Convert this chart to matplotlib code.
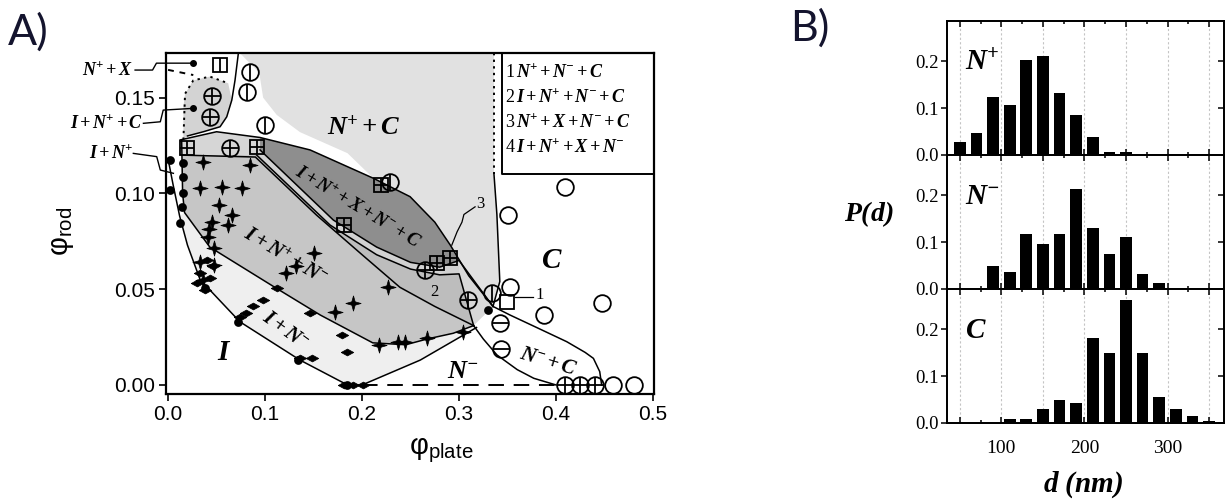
import numpy as np
import matplotlib
matplotlib.use("Agg")
import matplotlib.pyplot as plt
from matplotlib.patches import Polygon
from matplotlib.ticker import MultipleLocator

plt.rcParams['font.family'] = ['Liberation Sans', 'DejaVu Sans']
plt.rcParams['mathtext.fontset'] = 'custom'
plt.rcParams['mathtext.rm'] = 'Liberation Serif'
plt.rcParams['mathtext.it'] = 'Liberation Serif:italic'
plt.rcParams['mathtext.bf'] = 'Liberation Serif:italic:bold'
plt.rcParams['mathtext.sf'] = 'Liberation Sans'

# ---------------- panel B: size distributions P(d)
d_nm = [50, 70, 90, 110, 130, 150, 170, 190, 210, 230, 250, 270, 290, 310, 330, 350]
p_nplus = [0.028, 0.046, 0.124, 0.106, 0.202, 0.211, 0.133, 0.086, 0.039, 0.007, 0.007,
           0, 0, 0, 0, 0]
p_nminus = [0, 0, 0.049, 0.037, 0.118, 0.095, 0.118, 0.213, 0.130, 0.074, 0.111,
            0.032, 0.012, 0, 0, 0]
p_col = [0, 0, 0, 0.009, 0.009, 0.030, 0.049, 0.043, 0.182, 0.149, 0.263, 0.149,
         0.055, 0.029, 0.014, 0.004]
hist_labels = [r'$\mathbf{N^{+}}$', r'$\mathbf{N^{-}}$', r'$\mathbf{C}$']

# ---------------- panel A: phase diagram, (phi_plate, phi_rod)
# measured state points, grouped by symbol
pts_C = [(0.409, 0.1035), (0.350, 0.0885), (0.447, 0.0426), (0.388, 0.0365),
         (0.353, 0.0513), (0.459, 0.0), (0.480, 0.0)]
pts_NpC = [(0.0845, 0.1635), (0.0818, 0.1528), (0.100, 0.1357), (0.229, 0.106),
           (0.334, 0.0478)]
pts_INpC = [(0.045, 0.151), (0.0433, 0.140), (0.0639, 0.1235), (0.265, 0.060),
            (0.3096, 0.0444), (0.409, 0.0), (0.425, 0.0), (0.440, 0.0)]
pts_NmC = [(0.342, 0.0322), (0.343, 0.019)]
pts_sqplus = [(0.0193, 0.1235), (0.0914, 0.124), (0.220, 0.1044), (0.181, 0.0835),
              (0.277, 0.0635), (0.2907, 0.0661)]
pts_sqbar = [(0.0536, 0.167)]
pts_sq = [(0.349, 0.0435)]
pts_star = [(0.0364, 0.1166), (0.033, 0.1027), (0.0553, 0.1035), (0.076, 0.1027),
            (0.052, 0.094), (0.0656, 0.0887), (0.0845, 0.1148), (0.045, 0.0853),
            (0.041, 0.077), (0.062, 0.0835), (0.047, 0.0713), (0.033, 0.0644),
            (0.047, 0.0626), (0.036, 0.0548), (0.150, 0.0687), (0.122, 0.0583),
            (0.132, 0.062), (0.227, 0.0513), (0.191, 0.0426), (0.172, 0.0383),
            (0.237, 0.0226), (0.217, 0.021), (0.3045, 0.0278), (0.2667, 0.0244),
            (0.244, 0.0226), (0.042, 0.0815)]
pts_diam = [(0.040, 0.065), (0.046, 0.062), (0.033, 0.0585), (0.043, 0.056),
            (0.030, 0.053), (0.038, 0.0496), (0.074, 0.0355), (0.080, 0.0375),
            (0.088, 0.041), (0.098, 0.0444), (0.112, 0.0506), (0.146, 0.0374),
            (0.179, 0.026), (0.184, 0.0174), (0.136, 0.014), (0.148, 0.014),
            (0.181, 0.0), (0.191, 0.0), (0.201, 0.0)]
pts_dot = [(0.002, 0.1174), (0.002, 0.102), (0.0158, 0.1157), (0.0158, 0.1087),
           (0.0158, 0.100), (0.014, 0.093), (0.0124, 0.0844), (0.038, 0.0505),
           (0.072, 0.033), (0.134, 0.013), (0.184, 0.0), (0.33, 0.039)]

# phase boundaries
b_outer = [(0.0, 0.118), (0.005, 0.105), (0.012, 0.088), (0.02, 0.073), (0.033, 0.055),
           (0.074, 0.033), (0.136, 0.013), (0.185, 0.0), (0.20, 0.0), (0.26, 0.013),
           (0.318, 0.030)]
b_low = [(0.014, 0.128), (0.015, 0.10), (0.017, 0.09), (0.043, 0.072), (0.110, 0.051),
         (0.157, 0.0365), (0.211, 0.022), (0.245, 0.021), (0.267, 0.024), (0.294, 0.027),
         (0.315, 0.031)]
b_mid = [(0.014, 0.120), (0.09, 0.119), (0.153, 0.0887), (0.20, 0.068), (0.239, 0.051),
         (0.275, 0.041), (0.315, 0.031)]
b_band_lo = [(0.0914, 0.120), (0.167, 0.0835), (0.215, 0.068), (0.25, 0.0605),
             (0.28, 0.0575), (0.30, 0.058), (0.315, 0.031)]
b_band_up = [(0.0948, 0.1227), (0.1704, 0.0861), (0.215, 0.072), (0.25, 0.064),
             (0.28, 0.0615), (0.30, 0.065), (0.335, 0.041)]
b_lens_top = [(0.0124, 0.1279), (0.05, 0.1322), (0.0948, 0.1292), (0.1464, 0.1227),
              (0.2117, 0.1079), (0.2495, 0.0983), (0.275, 0.085), (0.291, 0.073),
              (0.31, 0.057), (0.335, 0.041)]
b_nmc_left = [(0.315, 0.031), (0.325, 0.024), (0.339, 0.0157), (0.36, 0.008),
              (0.377, 0.0035), (0.40, 0.0)]
b_nmc_top = [(0.335, 0.041), (0.3526, 0.0365), (0.38, 0.030), (0.411, 0.0226),
             (0.43, 0.017), (0.4385, 0.0139), (0.445, 0.007), (0.447, 0.0)]
b_vert = [(0.336, 0.110), (0.339, 0.089), (0.342, 0.054), (0.335, 0.041)]
b_vert_dot = [(0.336, 0.1733), (0.336, 0.110)]
b_blob = [(0.0725, 0.1733), (0.069, 0.159), (0.0657, 0.1487), (0.0605, 0.140),
          (0.0536, 0.1348), (0.0364, 0.1322), (0.02, 0.130)]
b_blob_dot = [(0.0158, 0.128), (0.0175, 0.152), (0.026, 0.159), (0.043, 0.161),
              (0.062, 0.1575)]
b_top_dash = [(0.0, 0.1645), (0.026, 0.1618)]
b_n_dash = [(0.20, 0.0), (0.405, 0.0)]

reg_npc = [(0.074, 0.1733), (0.336, 0.1733), (0.336, 0.110), (0.339, 0.089),
           (0.342, 0.054), (0.335, 0.041), (0.31, 0.057), (0.291, 0.073), (0.275, 0.085),
           (0.2495, 0.0983), (0.2117, 0.1079), (0.185, 0.121), (0.136, 0.132),
           (0.112, 0.141), (0.098, 0.150), (0.094, 0.163)]
reg_blob = [(0.0158, 0.128), (0.0158, 0.145), (0.0175, 0.152), (0.026, 0.159),
            (0.043, 0.161), (0.062, 0.1575), (0.0657, 0.1487), (0.0605, 0.140),
            (0.0536, 0.1348), (0.0364, 0.1322), (0.02, 0.130)]
reg_topband = [(0.0124, 0.1279), (0.05, 0.1322), (0.0948, 0.1292), (0.0948, 0.1227),
               (0.0914, 0.120), (0.014, 0.120)]
reg_lens = b_lens_top[2:8] + [(0.30, 0.065)] + b_band_up[::-1][2:]
reg_band = b_band_up[:-1] + b_band_lo[:-1][::-1]
reg_two = b_band_lo + b_mid[::-1][1:]
reg_tip = [(0.291, 0.073), (0.31, 0.057), (0.335, 0.041), (0.315, 0.031), (0.30, 0.058),
           (0.30, 0.065)]
reg_mid = b_mid + b_low[::-1][1:]
reg_inm = b_low[2:] + b_outer[::-1][:-2]

fig = plt.figure(figsize=(12.25, 5.01), dpi=100)

# ======================= A =======================
ax = fig.add_axes([0.1353, 0.2136, 0.3986, 0.6806])
ax.set_xlim(-0.0024, 0.501)
ax.set_ylim(-0.0047, 0.1733)

for poly, col in [(reg_npc, '#e1e1e1'), (reg_inm, '#efefef'), (reg_mid, '#c6c6c6'),
                  (reg_two, '#bdbdbd'), (reg_band, '#d2d2d2'), (reg_lens, '#8e8e8e'),
                  (reg_tip, '#d8d8d8'), (reg_topband, '#d6d6d6'), (reg_blob, '#d3d3d3')]:
    ax.add_patch(Polygon(poly, closed=True, fc=col, ec='none', zorder=1))

for line in [b_outer, b_low, b_mid, b_band_lo, b_band_up, b_lens_top, b_nmc_left,
             b_nmc_top, b_vert, b_blob]:
    xs, ys = np.array(line).T
    ax.plot(xs, ys, color='k', lw=1.1, zorder=2)
for line, ls in [(b_vert_dot, (0, (1.2, 2.2))), (b_blob_dot, (0, (1.2, 2.2))),
                 (b_top_dash, (0, (3, 3))), (b_n_dash, (0, (8, 5)))]:
    xs, ys = np.array(line).T
    ax.plot(xs, ys, color='k', lw=1.4, ls=ls, zorder=2)

star4 = [(0, 1), (0.22, 0.22), (1, 0), (0.22, -0.22), (0, -1), (-0.22, -0.22),
         (-1, 0), (-0.22, 0.22), (0, 1)]
flat_d = [(-1, 0), (0, 0.55), (1, 0), (0, -0.55), (-1, 0)]


def mark(pts, marker, ms, fill=False, mew=1.3, extra=None):
    xs, ys = np.array(pts).T
    ax.plot(xs, ys, ls='none', marker=marker, ms=ms, mfc='k' if fill else 'none',
            mec='k', mew=mew, zorder=5, clip_on=False)
    for e in (extra or []):
        ax.plot(xs, ys, ls='none', marker=e, ms=ms, mec='k', mew=mew, zorder=5,
                clip_on=False)


mark(pts_diam, flat_d, 9, fill=True, mew=0.5)
mark(pts_star, star4, 11, fill=True, mew=0.5)
mark(pts_dot, 'o', 5, fill=True)
mark(pts_C, 'o', 12)
mark(pts_NpC, 'o', 12, extra=['|'])
mark(pts_INpC, 'o', 12, extra=['+'])
mark(pts_NmC, 'o', 12, extra=['_'])
mark(pts_sqplus, 's', 10, extra=['+'])
mark(pts_sqbar, 's', 10, extra=['|'])
mark(pts_sq, 's', 10)

# region labels
ax.text(0.202, 0.1305, r'$\mathbf{N^{+}+C}$', fontsize=19, ha='center', zorder=6)
ax.text(0.396, 0.061, r'$\mathbf{C}$', fontsize=21, ha='center', zorder=6)
ax.text(0.058, 0.013, r'$\mathbf{I}$', fontsize=21, ha='center', zorder=6)
ax.text(0.304, 0.0037, r'$\mathbf{N^{-}}$', fontsize=19, ha='center', zorder=6)
ax.text(0.392, 0.0125, r'$\mathbf{N^{-}+C}$', fontsize=15, ha='center', va='center',
        rotation=-17, zorder=6)
ax.text(0.1206, 0.067, r'$\mathbf{I+N^{+}+N^{-}}$', fontsize=15, ha='center',
        va='center', rotation=-31, zorder=6)
ax.text(0.1206, 0.0287, r'$\mathbf{I+N^{-}}$', fontsize=15, ha='center', va='center',
        rotation=-36, zorder=6)
ax.text(0.196, 0.093, r'$\mathbf{I+N^{+}+X+N^{-}+C}$', fontsize=13.5, ha='center',
        va='center', rotation=-31, zorder=6)
ax.text(0.275, 0.0487, r'$\mathrm{2}$', fontsize=12, ha='center', va='center', zorder=6)
ax.text(0.322, 0.0948, r'$\mathrm{3}$', fontsize=12, ha='center', va='center', zorder=6)
ax.text(0.378, 0.047, r'$\mathrm{1}$', fontsize=12, ha='left', va='center', zorder=6)
ax.plot([0.3165, 0.305, 0.303, 0.298, 0.2925], [0.093, 0.089, 0.085, 0.080, 0.073],
        color='k', lw=0.9, zorder=6)
ax.plot([0.3577, 0.3766], [0.0461, 0.0461], color='k', lw=0.9, zorder=6)

# legend box (upper right)
ax.plot([0.344, 0.344, 0.501], [0.1733, 0.110, 0.110], color='k', lw=1.4, zorder=6)
legend_lines = [r'$\mathrm{1}\,\mathbf{N^{+}+N^{-}+C}$',
                r'$\mathrm{2}\,\mathbf{I+N^{+}+N^{-}+C}$',
                r'$\mathrm{3}\,\mathbf{N^{+}+X+N^{-}+C}$',
                r'$\mathrm{4}\,\mathbf{I+N^{+}+X+N^{-}}$']
for i, s in enumerate(legend_lines):
    ax.text(0.3475, 0.1634 - i * 0.0131, s, fontsize=13, ha='left', va='center',
            zorder=6)

# outside call-outs
ax.text(-0.036, 0.1644, r'$\mathbf{N^{+}+X}$', fontsize=13, ha='right', va='center')
ax.text(-0.026, 0.1367, r'$\mathbf{I+N^{+}+C}$', fontsize=13, ha='right', va='center')
ax.text(-0.036, 0.1209, r'$\mathbf{I+N^{+}}$', fontsize=13, ha='right', va='center')
for xs, ys, dot in [([-0.034, -0.016, -0.012, 0.0258], [0.1644, 0.1644, 0.168, 0.168], True),
                    ([-0.0254, -0.008, -0.005, 0.026], [0.1366, 0.1374, 0.1435, 0.1444], True),
                    ([-0.0358, -0.0117, -0.008, 0.0055], [0.1209, 0.1192, 0.1122, 0.1105], False)]:
    ax.plot(xs, ys, color='k', lw=1.0, clip_on=False, zorder=6)
    if dot:
        ax.plot(xs[-1], ys[-1], 'ko', ms=4, clip_on=False, zorder=6)

ax.set_xticks([0.0, 0.1, 0.2, 0.3, 0.4, 0.5])
ax.set_xticklabels(['0.0', '0.1', '0.2', '0.3', '0.4', '0.5'])
ax.set_yticks([0.0, 0.05, 0.10, 0.15])
ax.set_yticklabels(['0.00', '0.05', '0.10', '0.15'])
ax.tick_params(direction='out', length=5, width=1.2, labelsize=15, pad=3)
for sp in ax.spines.values():
    sp.set_linewidth(1.6)
fig.text(441 / 1225, 1 - 450 / 501, 'φ$_\\mathregular{plate}$', fontsize=21,
         ha='center', va='center')
fig.text(62 / 1225, 1 - 231 / 501, 'φ$_\\mathregular{rod}$', fontsize=21,
         ha='center', va='center', rotation=90)
fig.text(8 / 1225, 1 - 32 / 501, 'A)', fontsize=31, ha='left', va='center',
         color='#14142e', family='Lato')

# ======================= B =======================
tops = [0.69063, 0.42317, 0.1557]
for k, (vals, lab) in enumerate(zip([p_nplus, p_nminus, p_col], hist_labels)):
    axb = fig.add_axes([0.7731, tops[k], 0.2261, 0.26747])
    axb.bar(d_nm, vals, width=14, color='k', zorder=3)
    axb.set_xlim(34.6, 368)
    axb.set_ylim(0, 0.286)
    axb.set_xticks([50, 100, 150, 200, 250, 300, 350])
    axb.xaxis.set_minor_locator(MultipleLocator(25))
    if k == 2:
        axb.set_xticklabels(['', '100', '', '200', '', '300', ''],
                            fontfamily='Liberation Serif', fontsize=14)
    else:
        axb.set_xticklabels([])
    axb.grid(axis='x', color='#c4c4c4', ls=(0, (2, 2)), lw=0.8, zorder=0)
    axb.set_yticks([0.0, 0.1, 0.2])
    axb.set_yticklabels(['0.0', '0.1', '0.2'], fontfamily='Liberation Serif', fontsize=13.5)
    axb.tick_params(axis='x', which='both', direction='in', top=True, width=1.1, pad=12)
    axb.tick_params(axis='x', which='major', length=4)
    axb.tick_params(axis='x', which='minor', length=2.5)
    axb.tick_params(axis='y', direction='out', length=4, width=1.1, pad=2)
    axr = axb.twinx()
    axr.set_ylim(0, 0.286)
    axr.set_yticks([0.0, 0.1, 0.2])
    axr.tick_params(direction='in', length=4, width=1.1, labelright=False)
    for a in (axb, axr):
        for sp in a.spines.values():
            sp.set_linewidth(1.3)
    axb.text(0.065, 0.635, lab, transform=axb.transAxes, fontsize=21, ha='left',
             va='baseline')

fig.text(869 / 1225, 1 - 214 / 501, r'$\mathbf{P(d)}$', fontsize=20, ha='center',
         va='center')
fig.text(1083 / 1225, 1 - 485 / 501, r'$\mathbf{d\ (nm)}$', fontsize=21, ha='center',
         va='center')
fig.text(790 / 1225, 1 - 28 / 501, 'B)', fontsize=31, ha='left', va='center',
         color='#14142e', family='Lato')

fig.savefig('out.png', dpi=100)
